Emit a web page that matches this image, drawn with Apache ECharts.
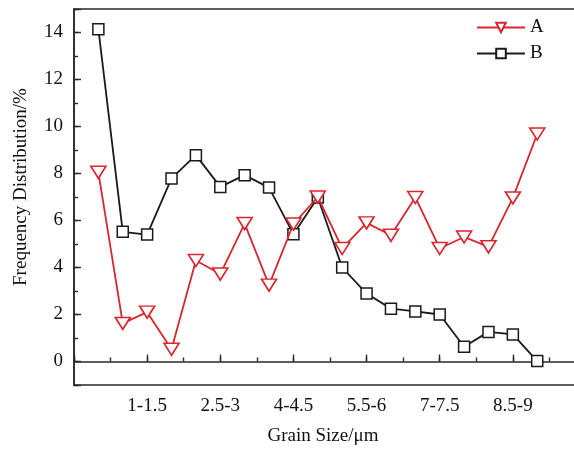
<!DOCTYPE html>
<html>
<head>
<meta charset="utf-8">
<script src="https://cdn.jsdelivr.net/npm/echarts@6/dist/echarts.min.js"></script>
<style>
  html, body { margin: 0; padding: 0; background: #fff; }
  #chart { width: 574px; height: 450px; }
</style>
</head>
<body>
<div id="chart"></div>
<script>
// grain size classes (um)
var categories = ['0-0.5', '0.5-1', '1-1.5', '1.5-2', '2-2.5', '2.5-3', '3-3.5', '3.5-4', '4-4.5', '4.5-5',
    '5-5.5', '5.5-6', '6-6.5', '6.5-7', '7-7.5', '7.5-8', '8-8.5', '8.5-9', '9-9.5'];
// frequency distribution, %
var seriesA = [8.05, 1.62, 2.1, 0.52, 4.3, 3.72, 5.87, 3.25, 5.85, 7.0,
    4.81, 5.9, 5.37, 6.98, 4.81, 5.3, 4.88, 6.96, 9.68];
var seriesB = [14.14, 5.52, 5.4, 7.79, 8.78, 7.43, 7.93, 7.4, 5.42, 6.98,
    4.0, 2.89, 2.25, 2.13, 2.0, 0.63, 1.26, 1.15, 0.02];
var yTickLabels = ['0', '2', '4', '6', '8', '10', '12', '14'];

var FONT = 'Liberation Serif';

// x position = class index + 1, so the axis can start at 0
function toPoints(arr) {
    return arr.map(function (v, i) { return [i + 1, v]; });
}

var myChart = echarts.init(document.getElementById('chart'));

var option = {
    animation: false,
    backgroundColor: '#fff',
    grid: {
        left: 74, top: 9, right: -12, bottom: 65,
        outerBoundsMode: 'none', containLabel: false,
        show: true, borderColor: '#2a2a2a', borderWidth: 1.6, backgroundColor: 'transparent'
    },
    legend: {
        orient: 'vertical',
        left: 471, top: 13,
        itemWidth: 48, itemHeight: 12, itemGap: 7,
        textStyle: { fontFamily: FONT, fontSize: 19, color: '#111' },
        data: ['A', 'B']
    },
    xAxis: [{
        type: 'value', min: 0, max: 21, interval: 3,
        name: 'Grain Size/\u03bcm', nameLocation: 'middle', nameGap: 42,
        nameTextStyle: { fontFamily: FONT, fontSize: 19, color: '#111', padding: [0, 14, 0, 0] },
        axisLine: { lineStyle: { color: '#2a2a2a', width: 1.6 } },
        axisTick: { inside: true, length: 7, lineStyle: { color: '#2a2a2a', width: 1.4 } },
        axisLabel: {
            margin: 12, fontFamily: FONT, fontSize: 19, color: '#111',
            formatter: function (v) {
                return (v >= 1 && v <= categories.length) ? categories[v - 1] : '';
            }
        },
        splitLine: { show: false }
    }, {
        type: 'value', min: 0, max: 21, interval: 1.5, position: 'bottom',
        axisLine: { show: false },
        axisTick: { inside: true, length: 4, lineStyle: { color: '#2a2a2a', width: 1.4 } },
        axisLabel: { show: false },
        splitLine: { show: false }
    }],
    yAxis: [{
        type: 'value', min: -1, max: 15, splitNumber: 8,
        name: 'Frequency Distribution/%', nameLocation: 'middle', nameGap: 43,
        nameTextStyle: { fontFamily: FONT, fontSize: 19, color: '#111', padding: [0, 0, 0, 20] },
        axisLine: { show: true, lineStyle: { color: '#2a2a2a', width: 1.6 } },
        axisTick: { show: true, inside: true, length: 7, lineStyle: { color: '#2a2a2a', width: 1.4 } },
        axisLabel: {
            margin: 11, fontFamily: FONT, fontSize: 19, color: '#111',
            formatter: function (v) {
                var s = String(v);
                return yTickLabels.indexOf(s) >= 0 ? s : '';
            }
        },
        splitLine: { show: false }
    }, {
        type: 'value', min: -1, max: 15, interval: 1, position: 'left',
        axisLine: { show: false },
        axisTick: { show: true, inside: true, length: 4, lineStyle: { color: '#2a2a2a', width: 1.4 } },
        axisLabel: { show: false },
        splitLine: { show: false }
    }],
    series: [{
        name: 'A', type: 'line',
        data: toPoints(seriesA),
        symbol: 'triangle', symbolRotate: 180, symbolSize: [15, 12],
        showAllSymbol: true,
        itemStyle: { color: '#fff', borderColor: '#d8262e', borderWidth: 1.6 },
        lineStyle: { color: '#d8262e', width: 1.8 },
        z: 3
    }, {
        name: 'B', type: 'line',
        data: toPoints(seriesB),
        symbol: 'rect', symbolSize: 11,
        showAllSymbol: true,
        itemStyle: { color: '#fff', borderColor: '#1a1a1a', borderWidth: 1.5 },
        lineStyle: { color: '#1a1a1a', width: 1.8 },
        z: 2
    }]
};

myChart.setOption(option, true);
</script>
</body>
</html>
